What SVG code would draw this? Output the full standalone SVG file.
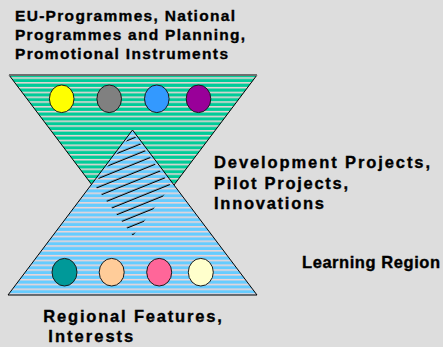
<svg xmlns="http://www.w3.org/2000/svg" width="443" height="347" viewBox="0 0 443 347">
  <defs>
    <pattern id="stripeGreen" patternUnits="userSpaceOnUse" x="0" y="0.5" width="10" height="4.8">
      <rect width="10" height="4.8" fill="#00CC99"/>
      <rect y="0" width="10" height="1.5" fill="#F2D6D6"/>
    </pattern>
    <pattern id="stripeBlue" patternUnits="userSpaceOnUse" x="0" y="0.5" width="10" height="4.8">
      <rect width="10" height="4.8" fill="#66CCFF"/>
      <rect y="0" width="10" height="1.5" fill="#F2D6D6"/>
    </pattern>
    <pattern id="hatch" patternUnits="userSpaceOnUse" width="200" height="8.1" patternTransform="rotate(-22 133 185)">
      <line x1="0" y1="4" x2="200" y2="4" stroke="#000" stroke-width="1.1"/>
    </pattern>
    <clipPath id="rhomb">
      <polygon points="132.5,133 94,184.5 133,236 171,186"/>
    </clipPath>
  </defs>
  <style>
    text { font-family: "Liberation Sans", Arial, sans-serif; font-weight: bold; fill: #000; stroke: #000; stroke-width: 0.35; }
    .t15 { font-size: 15.5px; }
    .t16 { font-size: 16.5px; }
    .dot { stroke: #1a1a1a; stroke-width: 1; }
  </style>
  <rect width="443" height="347" fill="#DDDDDD"/>

  <g id="top-funnel">
    <polygon points="9,75 257,75 133,239.3" fill="url(#stripeGreen)" stroke="#000" stroke-width="1"/>
    <line x1="9" y1="75" x2="257" y2="75" stroke="#6e6e6e" stroke-width="2"/>
  </g>

  <g id="bottom-pyramid">
    <polygon points="132.5,130 8,295 257,295" fill="url(#stripeBlue)" stroke="#000" stroke-width="1"/>
  </g>

  <g id="overlap">
    <rect x="80" y="125" width="110" height="120" fill="url(#hatch)" clip-path="url(#rhomb)"/>
  </g>

  <g id="top-circles">
    <ellipse class="dot" cx="61.7" cy="98.8" rx="12.3" ry="13.8" fill="#FFFF00"/>
    <ellipse class="dot" cx="109.2" cy="98.8" rx="12.3" ry="13.8" fill="#808080"/>
    <ellipse class="dot" cx="156.8" cy="98.8" rx="12.3" ry="13.8" fill="#3399FF"/>
    <ellipse class="dot" cx="198.5" cy="98.8" rx="12.3" ry="13.8" fill="#990099"/>
  </g>

  <g id="bottom-circles">
    <ellipse class="dot" cx="64.5" cy="272.2" rx="12.5" ry="13.8" fill="#009999"/>
    <ellipse class="dot" cx="111.7" cy="272.2" rx="12.5" ry="13.8" fill="#FFCC99"/>
    <ellipse class="dot" cx="159.2" cy="272.2" rx="12.5" ry="13.8" fill="#FF6699"/>
    <ellipse class="dot" cx="200.8" cy="272.2" rx="12.5" ry="13.8" fill="#FFFFCC"/>
  </g>

  <g id="label-top">
    <text class="t15" x="15" y="20.5" textLength="220" lengthAdjust="spacing">EU-Programmes, National</text>
    <text class="t15" x="15" y="39.5" textLength="230" lengthAdjust="spacing">Programmes and Planning,</text>
    <text class="t15" x="15" y="58.5" textLength="213" lengthAdjust="spacing">Promotional Instruments</text>
  </g>

  <g id="label-middle">
    <text class="t16" x="214" y="168" textLength="216" lengthAdjust="spacing">Development Projects,</text>
    <text class="t16" x="214" y="188.5" textLength="134" lengthAdjust="spacing">Pilot Projects,</text>
    <text class="t16" x="214" y="209" textLength="110" lengthAdjust="spacing">Innovations</text>
  </g>

  <g id="label-learning">
    <text class="t16" x="302" y="268.3" textLength="138" lengthAdjust="spacing">Learning Region</text>
  </g>

  <g id="label-bottom">
    <text class="t16" x="43.3" y="321.7" textLength="178.5" lengthAdjust="spacing">Regional Features,</text>
    <text class="t16" x="48.3" y="341.7" textLength="85" lengthAdjust="spacing">Interests</text>
  </g>
</svg>
